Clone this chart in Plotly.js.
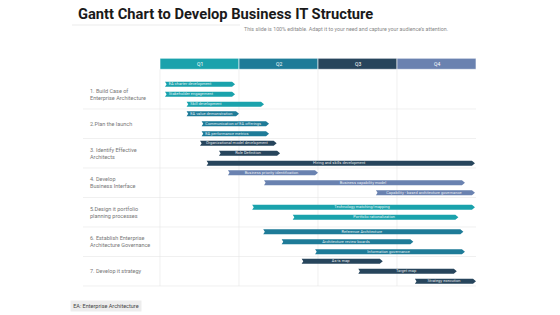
<!DOCTYPE html>
<html>
<head>
<meta charset="utf-8">
<script src="https://cdn.plot.ly/plotly-3.0.1.min.js"></script>
<style>html,body{margin:0;padding:0;background:#fff;}#chart{width:560px;height:315px;}</style>
</head>
<body>
<div id="chart"></div>
<script>
// ---- data ----
const quarters = ["Q1", "Q2", "Q3", "Q4"];
const groupLabels = [
  "1. Build Case of<br>Enterprise Architecture",
  "2.Plan the launch",
  "3. Identify Effective<br>Architects",
  "4. Develop<br>Business Interface",
  "5.Design it portfolio<br>planning processes",
  "6. Establish Enterprise<br>Architecture Governance",
  "7. Develop it strategy"
];
const taskNames = [
  "EA charter development", "Stakeholder engagement", "Skill development",
  "EA value demonstration", "Communication of EA offerings", "EA performance metrics",
  "Organizational model development", "Role Definition", "Hiring and skills development",
  "Business priority identification", "Business capability model", "Capability - based architecture governance",
  "Technology matching/mapping", "Portfolio rationalization",
  "Reference Architecture", "Architecture review boards", "Information governance",
  "As-is map", "Target map", "Strategy execution"
];
// months from start of Q1 (0) to end of Q4 (12)
const taskStart = [0.19, 0.19, 1.01, 1.01, 1.58, 1.58, 1.52, 2.24, 1.77, 2.58, 3.95, 8.2, 3.5, 5.04, 3.92, 4.62, 5.89, 5.38, 7.53, 9.68];
const taskEnd   = [2.85, 2.85, 3.95, 3.0, 4.14, 4.14, 4.43, 4.56, 11.96, 6.0, 11.58, 11.96, 11.96, 11.33, 11.52, 9.62, 11.58, 8.46, 11.27, 12.0];
const taskGroup = [0, 0, 0, 1, 1, 1, 2, 2, 2, 3, 3, 3, 4, 4, 5, 5, 5, 6, 6, 6];

// ---- styles ----
const TEAL = "#1aa2ac", BLUE = "#1e7b98", DARK = "#27455c", SLATE = "#6a82b0";
const quarterColors = [TEAL, BLUE, DARK, SLATE];
const groupColors = [TEAL, BLUE, DARK, SLATE, TEAL, BLUE, DARK];

// layout geometry (pixels)
const W = 560, H = 315;
const M = {l: 155, r: 79, t: 55, b: 25};
const PX_PER_MONTH = 316 / 12, X0_PX = 160;
const ROW_TOP_PX = 79.5, ROW_H_PX = 29.5;
const xRange = [(M.l - X0_PX) / PX_PER_MONTH, (W - M.r - X0_PX) / PX_PER_MONTH];
const yRange = [(H - M.b - ROW_TOP_PX) / ROW_H_PX, (M.t - ROW_TOP_PX) / ROW_H_PX];
const plotW = W - M.l - M.r;
const pxToPaperX = px => (px - M.l) / plotW;

const halfH = 2.5 / ROW_H_PX;     // bar half height in row units
const tip = 3 / PX_PER_MONTH;     // arrow tip depth
const notch = 1.6 / PX_PER_MONTH; // tail notch depth

// lane positions
const laneCount = {}, laneIdx = [];
taskGroup.forEach(g => { laneIdx.push(laneCount[g] || 0); laneCount[g] = (laneCount[g] || 0) + 1; });
const laneY = taskNames.map((_, i) => {
  const n = laneCount[taskGroup[i]];
  return taskGroup[i] + 0.5 + (laneIdx[i] - (n - 1) / 2) * 0.34;
});

const traces = [];
taskNames.forEach((name, i) => {
  const x0 = taskStart[i], x1 = taskEnd[i], yc = laneY[i];
  traces.push({
    type: "scatter", mode: "lines", fill: "toself",
    x: [x0, x1 - tip, x1, x1 - tip, x0, x0 + notch, x0],
    y: [yc - halfH, yc - halfH, yc, yc + halfH, yc + halfH, yc, yc - halfH],
    line: {width: 0, color: groupColors[taskGroup[i]]},
    fillcolor: groupColors[taskGroup[i]],
    hoverinfo: "skip", showlegend: false
  });
  const leftAlign = taskGroup[i] < 2;
  traces.push({
    type: "scatter", mode: "text",
    x: [leftAlign ? x0 + notch + 0.08 : (x0 + x1 - tip) / 2],
    y: [yc],
    text: [name],
    textposition: leftAlign ? "middle right" : "middle center",
    textfont: {family: "Roboto, sans-serif", size: 4, color: "rgba(255,255,255,0.9)"},
    hoverinfo: "skip", showlegend: false, cliponaxis: false
  });
});

const shapes = [];
const annotations = [];
// quarter header
const hdrTop = (58.3 - ROW_TOP_PX) / ROW_H_PX, hdrBot = (69.3 - ROW_TOP_PX) / ROW_H_PX;
quarters.forEach((q, k) => {
  shapes.push({type: "rect", xref: "x", yref: "y", x0: k * 3, x1: k * 3 + 3, y0: hdrTop, y1: hdrBot,
    fillcolor: quarterColors[k], line: {width: 0.6, color: "#ffffff"}, layer: "below"});
  annotations.push({xref: "x", yref: "y", x: k * 3 + 1.5, y: (hdrTop + hdrBot) / 2, text: q, showarrow: false,
    font: {family: "Roboto, sans-serif", size: 5, color: "#ffffff"}});
});
// vertical grid lines
[0, 3, 6, 9].forEach(v => {
  shapes.push({type: "line", xref: "x", yref: "y", x0: v, x1: v, y0: hdrBot, y1: 7,
    line: {width: 0.6, color: "#e6e6e6"}, layer: "below"});
});
// row separators
for (let r = 1; r <= 7; r++) {
  shapes.push({type: "line", xref: "paper", yref: "y", x0: pxToPaperX(83), x1: pxToPaperX(476), y0: r, y1: r,
    line: {width: 0.6, color: "#e6e6e6"}, layer: "below"});
}
// group labels
groupLabels.forEach((lab, g) => {
  annotations.push({xref: "paper", yref: "y", x: pxToPaperX(88), y: g + 0.5, xanchor: "left", yanchor: "middle",
    align: "left", text: lab, showarrow: false,
    font: {family: "Roboto, sans-serif", size: 5.5, color: "#777777"}});
});
// title underline
shapes.push({type: "line", xref: "paper", yref: "paper", x0: pxToPaperX(72), x1: pxToPaperX(240),
  y0: 1 + (M.t - 25) / (H - M.t - M.b), y1: 1 + (M.t - 25) / (H - M.t - M.b), line: {width: 0.6, color: "#dddddd"}});
// subtitle
annotations.push({xref: "paper", yref: "paper", x: pxToPaperX(450), y: 1 + (M.t - 29) / (H - M.t - M.b),
  xanchor: "right", yanchor: "middle", showarrow: false,
  text: "This slide is 100% editable. Adapt it to your need and capture your audience’s attention.",
  font: {family: "Roboto, sans-serif", size: 5.3, color: "#888888"}});
// footer note
annotations.push({xref: "paper", yref: "paper", x: pxToPaperX(70), y: -(305.5 - (H - M.b)) / (H - M.t - M.b),
  xanchor: "left", yanchor: "middle", showarrow: false,
  text: "EA: Enterprise Architecture", bgcolor: "#ededed", borderpad: 2.2,
  font: {family: "Roboto, sans-serif", size: 5.5, color: "#444444"}});

const layout = {
  width: W, height: H,
  margin: M,
  paper_bgcolor: "#ffffff", plot_bgcolor: "#ffffff",
  title: {text: "<b>Gantt Chart to Develop Business IT Structure</b>", xref: "container", yref: "container",
    x: 78 / W, xanchor: "left", y: 1 - 14 / H, yanchor: "middle",
    font: {family: "'Liberation Sans Narrow', 'Roboto', sans-serif", size: 14.7, color: "#1a1a1a"}},
  xaxis: {range: xRange, visible: false, fixedrange: true},
  yaxis: {range: yRange, visible: false, fixedrange: true},
  shapes: shapes, annotations: annotations, showlegend: false
};

Plotly.newPlot("chart", traces, layout, {displayModeBar: false, staticPlot: true});
</script>
</body>
</html>
